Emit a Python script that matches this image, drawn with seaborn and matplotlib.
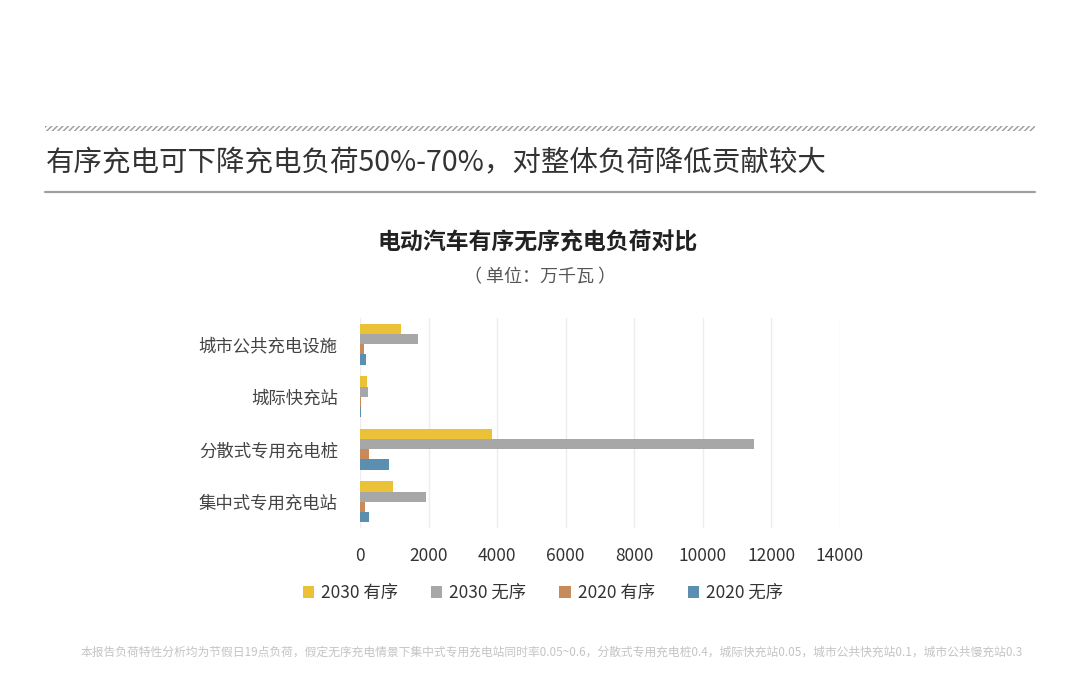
import matplotlib
matplotlib.use("Agg")
import matplotlib.pyplot as plt
from matplotlib.patches import Rectangle
from matplotlib.lines import Line2D
import seaborn as sns
import pandas as pd

categories = ["城市公共充电设施", "城际快充站", "分散式专用充电桩", "集中式专用充电站"]
series_names = ["2030 有序", "2030 无序", "2020 有序", "2020 无序"]
v2030_ordered = [1200, 200, 3850, 960]
v2030_disordered = [1700, 220, 11480, 1920]
v2020_ordered = [130, 20, 260, 150]
v2020_disordered = [170, 30, 850, 260]
x_ticks = [0, 2000, 4000, 6000, 8000, 10000, 12000, 14000]
colors = ["#EBC237", "#A7A7A7", "#C98A5B", "#5A8FB2"]

sns.set_theme(style="white")
plt.rcParams['font.family'] = ['Noto Sans CJK SC', 'DejaVu Sans']

rows = []
for name, vals in zip(series_names, [v2030_ordered, v2030_disordered, v2020_ordered, v2020_disordered]):
    for c, v in zip(categories, vals):
        rows.append({"cat": c, "series": name, "value": v})
df = pd.DataFrame(rows)

fig = plt.figure(figsize=(10.8, 6.89), dpi=100)
fig.patch.set_facecolor("white")
ax = fig.add_axes([360/1080, 1-528/689, 480/1080, 210/689])

sns.barplot(data=df, y="cat", x="value", hue="series", order=categories,
            hue_order=series_names, palette=colors, orient="h", width=0.78,
            ax=ax, legend=False, saturation=1, linewidth=0, edgecolor="none")

ax.set_xlim(0, 14000)
ax.set_ylim(3.5, -0.5)
ax.set_xticks(x_ticks)
ax.set_xticklabels([str(t) for t in x_ticks])
ax.set_xlabel("")
ax.set_ylabel("")
for s in ax.spines.values():
    s.set_visible(False)
ax.grid(axis="x", color="#EDEDED", linewidth=1)
ax.set_axisbelow(True)
ax.tick_params(axis="x", labelsize=12.5, colors="#333333", length=0, pad=14)
ax.tick_params(axis="y", labelsize=12.5, colors="#444444", length=0, pad=16)

# header decorations
fig.patches.append(Rectangle((45/1080, 1-131/689), 990/1080, 5/689, transform=fig.transFigure,
                             facecolor="none", edgecolor="#9A9A9A", hatch="//////", linewidth=0))
fig.add_artist(Line2D([45/1080, 1035/1080], [1-192/689, 1-192/689], color="#A0A0A0", linewidth=1.6))
fig.text(46/1080, 1-163/689, "有序充电可下降充电负荷50%-70%，对整体负荷降低贡献较大",
         fontsize=20.5, color="#333333", va="center", ha="left")

fig.text(538/1080, 1-243/689, "电动汽车有序无序充电负荷对比", fontsize=16.5, fontweight="bold",
         color="#222222", ha="center", va="center")
fig.text(540/1080, 1-277/689, "（ 单位：万千瓦 ）", fontsize=13, color="#555555", ha="center", va="center")

handles = [Rectangle((0, 0), 1, 1, facecolor=c, edgecolor="none") for c in colors]
fig.legend(handles, series_names, loc="center", bbox_to_anchor=(543/1080, 1-593/689), ncol=4,
           frameon=False, fontsize=12.5, handlelength=0.65, handleheight=0.65, handletextpad=0.4,
           columnspacing=1.9, labelcolor="#333333")

fig.text(552/1080, 1-652/689,
         "本报告负荷特性分析均为节假日19点负荷，假定无序充电情景下集中式专用充电站同时率0.05~0.6，分散式专用充电桩0.4，城际快充站0.05，城市公共快充站0.1，城市公共慢充站0.3",
         fontsize=8.5, color="#C4C4C4", ha="center", va="center")

fig.savefig("out.png", dpi=100, facecolor="white")
